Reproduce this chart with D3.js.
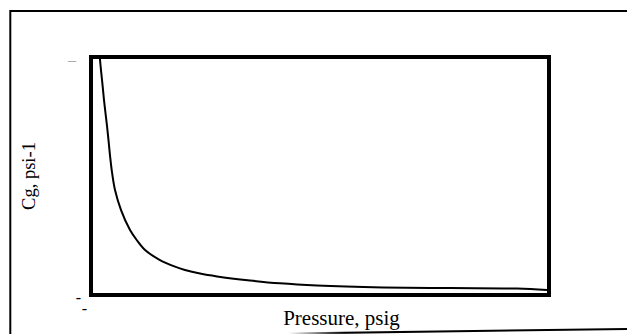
<!DOCTYPE html>
<html>
<head>
    <title>Gas compressibility vs pressure</title>
    <script src="https://d3js.org/d3.v7.min.js"></script>
    <style>
        body { margin: 0; background: #fff; }
        text { font-family: "Liberation Serif", "Times New Roman", serif; fill: #000; }
    </style>
</head>
<body>
    <div id="chart"></div>
    <script>
        // curve: pressure (psig) and Cg (psi-1)
        var pressure = [93, 109, 126, 142, 158, 175, 191, 207, 226, 262, 328, 426, 499, 590,
                        753, 917, 1026, 1190, 1376, 1736, 2063, 2467, 3188, 3919, 4651, 4978];
        var cg = [0.01010, 0.00945, 0.00882, 0.00819, 0.00765, 0.00710, 0.00651, 0.00588,
                  0.00525, 0.00441, 0.00357, 0.00273, 0.00231, 0.00189, 0.00147, 0.00119,
                  0.00105, 0.00090, 0.00078, 0.00061, 0.00049, 0.00040, 0.00032, 0.00029,
                  0.00027, 0.00021];
        var yTickValues = [0.0100, 0];
        var yTickLabels = ["\u2013", "-"];
        var xTickValues = [0];
        var xTickLabels = ["-"];

        var width = 627,
            height = 334;
        var box = { left: 91, top: 57, right: 549, bottom: 295 };

        var svg = d3.select("#chart").append("svg")
            .attr("width", width)
            .attr("height", height);

        var x = d3.scaleLinear().domain([0, 5000]).range([box.left, box.right]);
        var y = d3.scaleLinear().domain([0, 0.01]).range([box.bottom, box.top]);

        // outer frame (left + top) and the slanted bottom edge
        svg.append("path")
            .attr("d", "M10.3,334V11H627")
            .attr("fill", "none")
            .attr("stroke", "#000")
            .attr("stroke-width", 2);

        var grad = svg.append("defs").append("linearGradient")
            .attr("id", "fade")
            .attr("gradientUnits", "userSpaceOnUse")
            .attr("x1", 288).attr("x2", 345).attr("y1", 0).attr("y2", 0);
        grad.append("stop").attr("offset", 0).attr("stop-color", "#fff");
        grad.append("stop").attr("offset", 1).attr("stop-color", "#000");

        svg.append("line")
            .attr("x1", 288).attr("y1", 333.6)
            .attr("x2", 627).attr("y2", 328.9)
            .attr("stroke", "url(#fade)")
            .attr("stroke-width", 2);

        // curve
        svg.append("clipPath").attr("id", "clip")
            .append("rect")
            .attr("x", box.left).attr("y", box.top)
            .attr("width", box.right - box.left).attr("height", box.bottom - box.top);

        var line = d3.line()
            .x(function(d, i) { return x(pressure[i]); })
            .y(function(d) { return y(d); })
            .curve(d3.curveCatmullRom.alpha(0.5));

        svg.append("path")
            .datum(cg)
            .attr("clip-path", "url(#clip)")
            .attr("d", line)
            .attr("fill", "none")
            .attr("stroke", "#000")
            .attr("stroke-width", 2);

        // plot frame
        svg.append("rect")
            .attr("x", box.left).attr("y", box.top)
            .attr("width", box.right - box.left).attr("height", box.bottom - box.top)
            .attr("fill", "none")
            .attr("stroke", "#000")
            .attr("stroke-width", 4);

        // tick labels
        svg.selectAll(".ytick")
            .data(yTickValues)
            .enter().append("text")
            .attr("class", "ytick")
            .attr("x", function(d, i) { return i === 0 ? 76 : 81; })
            .attr("y", function(d) { return y(d) + 7.5; })
            .attr("text-anchor", "end")
            .style("font-size", "16px")
            .style("fill", function(d, i) { return i === 0 ? "#aaa" : "#000"; })
            .text(function(d, i) { return yTickLabels[i]; });

        svg.selectAll(".xtick")
            .data(xTickValues)
            .enter().append("text")
            .attr("class", "xtick")
            .attr("x", function(d) { return x(d) - 6.5; })
            .attr("y", 314)
            .attr("text-anchor", "middle")
            .style("font-size", "16px")
            .text(function(d, i) { return xTickLabels[i]; });

        // axis titles
        svg.append("text")
            .attr("x", 341.5)
            .attr("y", 325)
            .attr("text-anchor", "middle")
            .style("font-size", "21px")
            .text("Pressure, psig");

        svg.append("text")
            .attr("transform", "translate(35,176) rotate(-90)")
            .attr("text-anchor", "middle")
            .style("font-size", "18.5px")
            .text("Cg, psi-1");
    </script>
</body>
</html>
